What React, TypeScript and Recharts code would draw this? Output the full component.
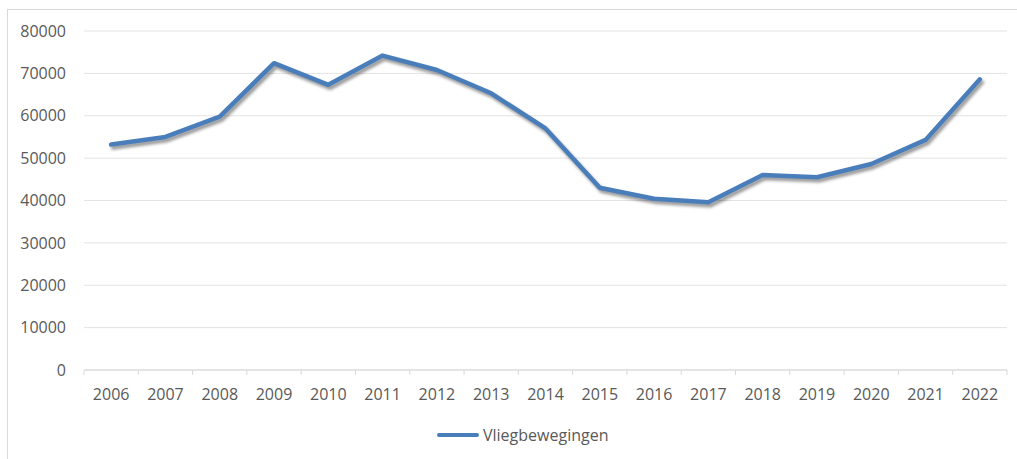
import { LineChart, Line, XAxis, YAxis, CartesianGrid } from 'recharts';

const years = ['2006', '2007', '2008', '2009', '2010', '2011', '2012', '2013', '2014', '2015', '2016', '2017', '2018', '2019', '2020', '2021', '2022'];
const vliegbewegingen = [53200, 55000, 59800, 72400, 67300, 74200, 70800, 65300, 57000, 43000, 40400, 39600, 46000, 45500, 48600, 54300, 68600];
const yTicks = [0, 10000, 20000, 30000, 40000, 50000, 60000, 70000, 80000];

const data = years.map((year, i) => ({ year, value: vliegbewegingen[i] }));

const LINE_COLOR = '#4a7ebb';
const TEXT_COLOR = '#595959';
const FONT = '"Open Sans", sans-serif';
const PLOT_LEFT = 84;
const PLOT_RIGHT = 1007;
const BAND = (PLOT_RIGHT - PLOT_LEFT) / years.length;

function YearTick(props: any) {
  const { x, y, payload, index } = props;
  const axisY = 370;
  return (
    <g>
      <line x1={x - BAND / 2} x2={x - BAND / 2} y1={axisY} y2={axisY + 5} stroke="#d9d9d9" />
      {index === years.length - 1 && (
        <line x1={x + BAND / 2} x2={x + BAND / 2} y1={axisY} y2={axisY + 5} stroke="#d9d9d9" />
      )}
      <text x={x} y={y} dy="0.71em" textAnchor="middle" fill={TEXT_COLOR} fontSize={16} fontFamily={FONT}>
        {payload.value}
      </text>
    </g>
  );
}

export default function App() {
  return (
    <div style={{ position: 'absolute', left: 0, top: 0, width: 1017, height: 459, background: '#fff', overflow: 'hidden' }}>
      <style>{`.vlieg-line path, .vlieg-line .recharts-line-curve { filter: drop-shadow(2px 3px 1.5px rgba(0,0,0,0.4)); }`}</style>
      <div
        style={{
          position: 'absolute',
          left: 7,
          top: 9,
          width: 1030,
          height: 470,
          border: '1px solid #d9d9d9',
        }}
      />
      <div style={{ position: 'absolute', left: 0, top: 0 }}>
        <LineChart width={1017} height={459} data={data} margin={{ top: 31, right: 10, left: 0, bottom: 59 }}>
          <CartesianGrid horizontal vertical={false} stroke="#e3e3e3" />
          <XAxis
            dataKey="year"
            height={30}
            axisLine={{ stroke: '#d9d9d9' }}
            tickLine={false}
            tickMargin={13}
            padding={{ left: BAND / 2, right: BAND / 2 }}
            interval={0}
            tick={<YearTick />}
          />
          <YAxis
            width={84}
            domain={[0, 80000]}
            ticks={yTicks}
            axisLine={false}
            tickLine={false}
            tickMargin={12}
            tick={{ fontSize: 16, fill: TEXT_COLOR, fontFamily: FONT }}
          />
          <Line
            className="vlieg-line"
            type="linear"
            dataKey="value"
            stroke={LINE_COLOR}
            strokeWidth={4.5}
            strokeLinejoin="round"
            strokeLinecap="round"
            dot={false}
            activeDot={false}
            isAnimationActive={false}
          />
        </LineChart>
      </div>
      <div
        style={{
          position: 'absolute',
          left: 437,
          top: 424,
          display: 'flex',
          alignItems: 'center',
          fontFamily: FONT,
          fontSize: 16,
          color: TEXT_COLOR,
        }}
      >
        <span style={{ display: 'inline-block', width: 42, height: 4.5, background: LINE_COLOR, borderRadius: 2, marginRight: 4 }} />
        <span>Vliegbewegingen</span>
      </div>
    </div>
  );
}
